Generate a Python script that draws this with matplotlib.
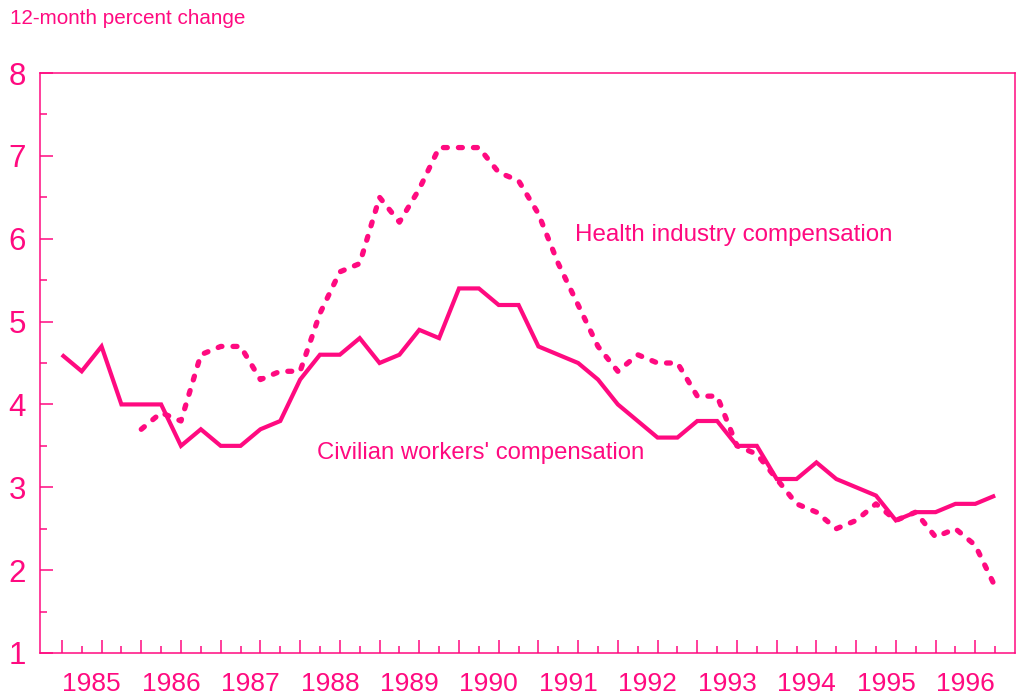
import matplotlib
matplotlib.use('Agg')
import matplotlib.pyplot as plt
import matplotlib.transforms as mtransforms

PINK = '#FF0A80'
plt.rcParams['font.family'] = ['Liberation Sans', 'DejaVu Sans']

# ---- data (quarterly, index 0 = first quarter shown) ----
years = [str(y) for y in range(1985, 1997)]
quarters = list(range(48))
civilian = [4.6, 4.4, 4.7, 4.0, 4.0, 4.0, 3.5, 3.7, 3.5, 3.5,
            3.7, 3.8, 4.3, 4.6, 4.6, 4.8, 4.5, 4.6, 4.9, 4.8,
            5.4, 5.4, 5.2, 5.2, 4.7, 4.6, 4.5, 4.3, 4.0, 3.8,
            3.6, 3.6, 3.8, 3.8, 3.5, 3.5, 3.1, 3.1, 3.3, 3.1,
            3.0, 2.9, 2.6, 2.7, 2.7, 2.8, 2.8, 2.9]
health_start = 4
health = [3.7, 3.9, 3.8, 4.6, 4.7, 4.7, 4.3, 4.4, 4.4, 5.1,
          5.6, 5.7, 6.5, 6.2, 6.6, 7.1, 7.1, 7.1, 6.8, 6.7,
          6.3, 5.7, 5.2, 4.7, 4.4, 4.6, 4.5, 4.5, 4.1, 4.1,
          3.5, 3.4, 3.1, 2.8, 2.7, 2.5, 2.6, 2.8, 2.6, 2.7,
          2.4, 2.5, 2.3, 1.8]
y_ticks = [1, 2, 3, 4, 5, 6, 7, 8]

W, H = 1018, 698
fig = plt.figure(figsize=(W / 100, H / 100), dpi=100)
ax = fig.add_axes([40 / W, 1 - 653 / H, 975 / W, 580 / H])

ax.plot(quarters, civilian, color=PINK, lw=3.0, solid_joinstyle='miter',
        solid_capstyle='butt')
ax.plot(quarters[health_start:], health, color=PINK, lw=3.8,
        linestyle=(0, (0.75, 2.1)), dash_capstyle='round')

ax.set_xlim(-1.1, 48.0)
ax.set_ylim(1, 8)

ax.set_xticks(quarters[0::2])
ax.set_xticks(quarters[1::2], minor=True)
ax.set_yticks(y_ticks)
ax.set_yticklabels([str(v) for v in y_ticks])
ax.set_yticks([v + 0.5 for v in y_ticks[:-1]], minor=True)

ax.tick_params(axis='both', which='both', direction='in', colors=PINK,
               width=1.1, top=False, right=False)
ax.tick_params(axis='both', which='major', length=9.4)
ax.tick_params(axis='both', which='minor', length=4.8)
ax.tick_params(axis='x', which='both', labelbottom=False)
ax.tick_params(axis='y', which='major', labelsize=22.5, pad=10,
               labelcolor=PINK)

for s in ax.spines.values():
    s.set_color(PINK)
    s.set_linewidth(1.1)

trans = mtransforms.blended_transform_factory(ax.transData, ax.transAxes)
for i, y in enumerate(years):
    ax.text(1.5 + 4 * i, -0.054, y, transform=trans, ha='center',
            va='center', fontsize=19, color=PINK)

ax.text(25.85, 6.045, 'Health industry compensation', fontsize=17.4,
        color=PINK, va='center', ha='left')
ax.text(12.84, 3.414, "Civilian workers' compensation", fontsize=17.2,
        color=PINK, va='center', ha='left')

fig.text(10 / W, 1 - 18 / H, '12-month percent change', fontsize=14.9,
         color=PINK, va='center', ha='left')

fig.savefig('out.png', dpi=100)
